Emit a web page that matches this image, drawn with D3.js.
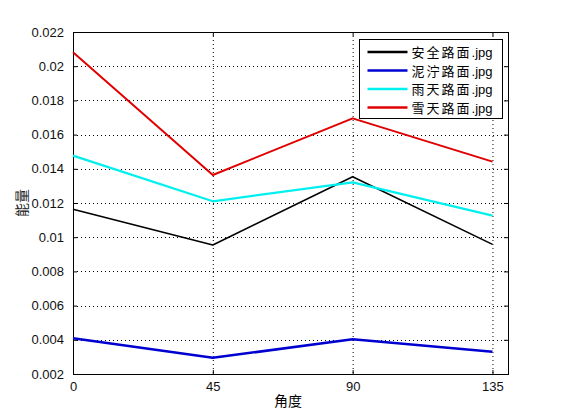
<!DOCTYPE html>
<html>
<head>
<meta charset="utf-8">
<script src="https://cdn.jsdelivr.net/npm/d3@7"></script>
<style>
    body { margin: 0; background: #fff; }
    svg text { font-family: "Liberation Sans", Arial, sans-serif; }
    .cjk { font-family: "Noto Sans CJK SC", sans-serif; }
</style>
</head>
<body>
<div id="chart"></div>
<script>
// Angles on the x axis
const angles = [0, 45, 90, 135];
const xTicks = [0, 45, 90, 135];
const yTicks = [0.002, 0.004, 0.006, 0.008, 0.01, 0.012, 0.014, 0.016, 0.018, 0.02, 0.022];

// One array per road surface image
const seriesNames = ["安全路面", "泥泞路面", "雨天路面", "雪天路面"];
const seriesSuffix = ".jpg";
const safeRoad = [0.01163, 0.00954, 0.01354, 0.00958];
const muddyRoad = [0.00409, 0.00295, 0.00403, 0.00330];
const rainRoad = [0.01477, 0.01210, 0.01321, 0.01126];
const snowRoad = [0.02081, 0.01364, 0.01695, 0.01442];
const seriesColors = ["#000000", "#0000d0", "#00f0f0", "#e00000"];
const seriesWidths = [1.6, 2.6, 2.2, 2];

window.onload = init;

function init()
{
    const width = 561, height = 420;
    const margin = {left: 73, top: 32, right: 53, bottom: 46};     // plot box 73..508 x 32..374
    const w = width - margin.left - margin.right;
    const h = height - margin.top - margin.bottom;

    const svg = d3.select("#chart").append("svg")
        .attr("width", width)
        .attr("height", height);

    const g = svg.append("g")
        .attr("transform", `translate(${margin.left},${margin.top})`);

    const x = d3.scaleLinear().domain([0, 140]).range([0, w]);
    const y = d3.scaleLinear().domain([0.002, 0.022]).range([h, 0]);

    // dotted grid
    g.selectAll(".vgrid").data(xTicks.filter(d => d > 0)).enter().append("line")
        .attr("x1", d => x(d) + 0.5).attr("x2", d => x(d) + 0.5)
        .attr("y1", 0).attr("y2", h)
        .attr("stroke", "#000").attr("stroke-width", 1).attr("stroke-dasharray", "1,3");
    g.selectAll(".hgrid").data(yTicks.slice(1, -1)).enter().append("line")
        .attr("x1", 0).attr("x2", w)
        .attr("y1", d => Math.round(y(d)) + 0.5).attr("y2", d => Math.round(y(d)) + 0.5)
        .attr("stroke", "#000").attr("stroke-width", 1).attr("stroke-dasharray", "1,3");

    // axes, ticks point inward like matlab
    const fmt = d => String(+d.toFixed(3));
    g.append("g").attr("transform", `translate(0,${h})`)
        .call(d3.axisBottom(x).tickValues(xTicks).tickSizeInner(-4).tickSizeOuter(0).tickPadding(8))
        .call(a => a.select(".domain").remove());
    g.append("g")
        .call(d3.axisTop(x).tickValues(xTicks).tickSizeInner(-4).tickSizeOuter(0).tickFormat(""))
        .call(a => a.select(".domain").remove());
    g.append("g")
        .call(d3.axisLeft(y).tickValues(yTicks).tickFormat(fmt).tickSizeInner(-4).tickSizeOuter(0).tickPadding(9))
        .call(a => a.select(".domain").remove());
    g.append("g").attr("transform", `translate(${w},0)`)
        .call(d3.axisRight(y).tickValues(yTicks).tickSizeInner(-4).tickSizeOuter(0).tickFormat(""))
        .call(a => a.select(".domain").remove());

    g.selectAll(".tick text").attr("font-size", 13).attr("fill", "#111")
        .attr("font-family", "'Liberation Sans', Arial, sans-serif");
    g.selectAll(".tick line").attr("stroke", "#000");

    g.append("rect")
        .attr("x", 0.5).attr("y", 0.5).attr("width", w).attr("height", h)
        .attr("fill", "none").attr("stroke", "#000").attr("stroke-width", 1);

    // lines
    const allSeries = [safeRoad, muddyRoad, rainRoad, snowRoad];
    const line = d3.line().x((d, i) => x(angles[i])).y(d => y(d));
    allSeries.forEach((vals, i) => {
        g.append("path")
            .datum(vals)
            .attr("d", line)
            .attr("fill", "none")
            .attr("stroke", seriesColors[i])
            .attr("stroke-width", seriesWidths[i])
            .attr("stroke-linejoin", "round");
    });

    // legend
    const legend = svg.append("g").attr("transform", "translate(359.5,39.5)");
    legend.append("rect")
        .attr("width", 143).attr("height", 79)
        .attr("fill", "#fff").attr("stroke", "#000").attr("stroke-width", 1);
    seriesNames.forEach((name, i) => {
        const yy = 12.5 + i * 18.5;
        legend.append("line")
            .attr("x1", 8).attr("x2", 48).attr("y1", yy).attr("y2", yy)
            .attr("stroke", seriesColors[i]).attr("stroke-width", 2.4);
        const t = legend.append("text")
            .attr("x", 52).attr("y", yy + 5)
            .attr("font-size", 13);
        t.append("tspan").attr("class", "cjk").attr("letter-spacing", 2).text(name);
        t.append("tspan").attr("font-family", "'Liberation Sans', Arial, sans-serif").text(seriesSuffix);
    });

    // axis labels
    svg.append("text").attr("class", "cjk")
        .attr("x", 288).attr("y", 406)
        .attr("text-anchor", "middle").attr("font-size", 14)
        .text("角度");
    svg.append("text").attr("class", "cjk")
        .attr("transform", "translate(27,203) rotate(-90)")
        .attr("text-anchor", "middle").attr("font-size", 14)
        .attr("fill", "#222")
        .text("能量");
}
</script>
</body>
</html>
